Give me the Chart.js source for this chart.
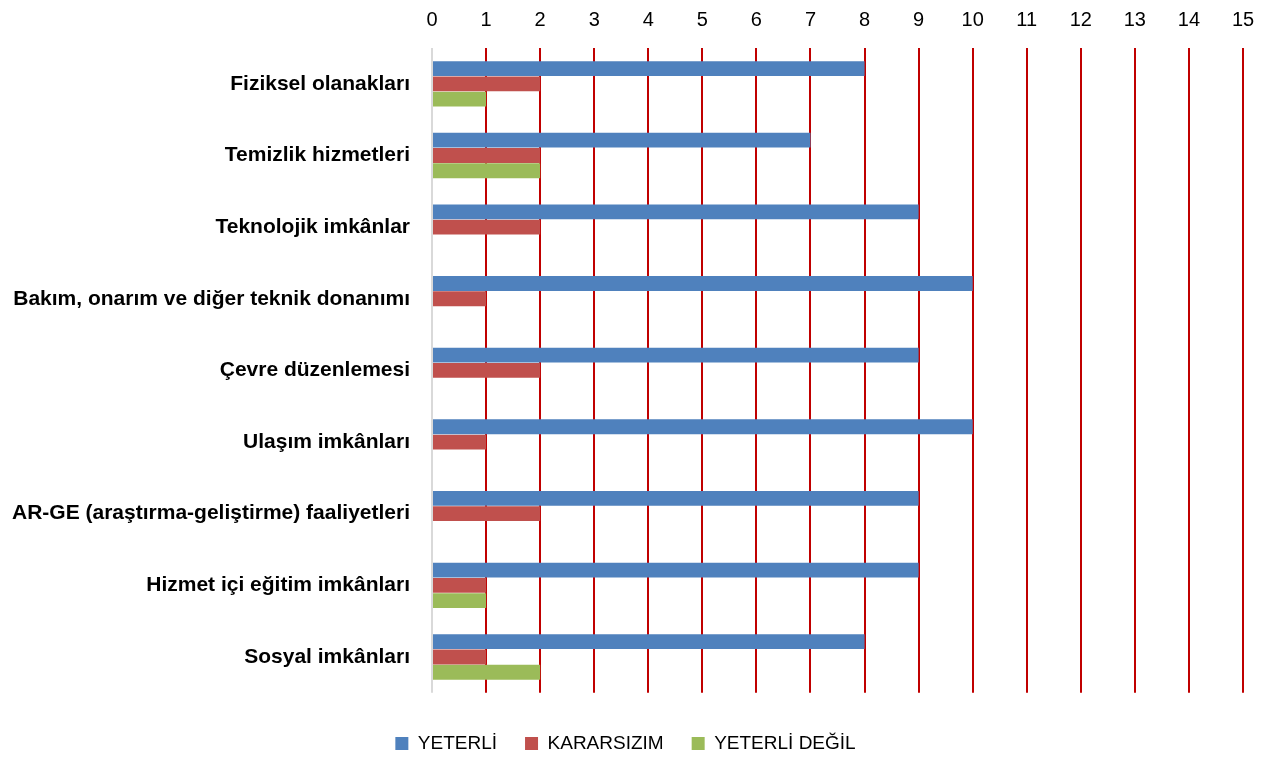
<!DOCTYPE html>
<html>
<head>
<meta charset="utf-8">
<script src="https://cdn.jsdelivr.net/npm/chart.js@4/dist/chart.umd.min.js"></script>
<style>
  body { margin: 0; background: #fff; }
  #wrap { width: 1273px; height: 761px; }
</style>
</head>
<body>
<div id="wrap"><canvas id="bars"></canvas></div>
<script>
var categories = [
    'Fiziksel olanakları',
    'Temizlik hizmetleri',
    'Teknolojik imkânlar',
    'Bakım, onarım ve diğer teknik donanımı',
    'Çevre düzenlemesi',
    'Ulaşım imkânları',
    'AR-GE (araştırma-geliştirme) faaliyetleri',
    'Hizmet içi eğitim imkânları',
    'Sosyal imkânları'
];
var yeterli = [8, 7, 9, 10, 9, 10, 9, 9, 8];
var kararsizim = [2, 2, 2, 1, 2, 1, 2, 1, 1];
var yeterliDegil = [1, 2, 0, 0, 0, 0, 0, 1, 2];
var xMin = 0, xMax = 15, xStep = 1;

var ctx = document.getElementById('bars').getContext('2d');
var chart = new Chart(ctx, {
    type: 'bar',
    data: {
        labels: categories,
        datasets: [{
            label: 'YETERLİ',
            backgroundColor: '#4f81bd',
            borderWidth: 0,
            data: yeterli
        }, {
            label: 'KARARSIZIM',
            backgroundColor: '#c0504d',
            borderWidth: 0,
            data: kararsizim
        }, {
            label: 'YETERLİ DEĞİL',
            backgroundColor: '#9bbb59',
            borderWidth: 0,
            data: yeterliDegil
        }]
    },
    options: {
        indexAxis: 'y',
        responsive: true,
        maintainAspectRatio: false,
        animation: false,
        datasets: {
            bar: { categoryPercentage: 0.64, barPercentage: 0.97 }
        },
        layout: { padding: { left: 8, right: 30, top: -8, bottom: -2 } },
        scales: {
            x: {
                position: 'top',
                min: xMin,
                max: xMax,
                ticks: {
                    stepSize: xStep,
                    padding: 16,
                    color: '#000',
                    font: { family: 'Liberation Sans', size: 20 }
                },
                grid: {
                    drawTicks: false,
                    lineWidth: 2,
                    color: function(c) { return c.index === 0 ? '#d9d9d9' : '#c00000'; }
                },
                border: { display: false }
            },
            y: {
                afterFit: function(scale) { scale.width = 424; },
                ticks: {
                    padding: 14,
                    color: '#000',
                    font: { family: 'Liberation Sans', size: 21, weight: 'bold' }
                },
                grid: { display: false },
                border: { display: false }
            }
        },
        plugins: {
            legend: {
                position: 'bottom',
                title: { display: true, text: ' ', padding: 6, font: { size: 1 } },
                labels: {
                    boxWidth: 13,
                    boxHeight: 13,
                    padding: 28,
                    color: '#000',
                    font: { family: 'Liberation Sans', size: 19 }
                }
            },
            tooltip: { enabled: false }
        }
    }
});
</script>
</body>
</html>
